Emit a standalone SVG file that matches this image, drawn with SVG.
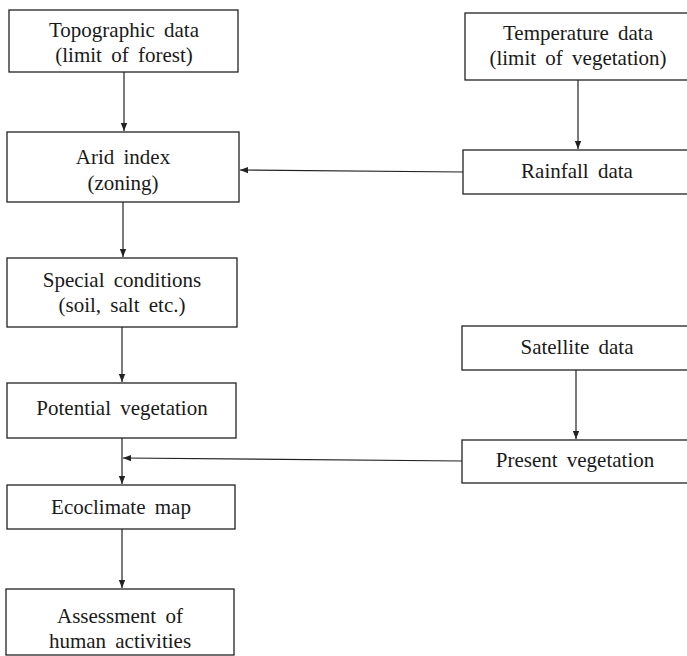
<svg xmlns="http://www.w3.org/2000/svg" width="687" height="656" viewBox="0 0 687 656">
<defs>
<marker id="ah" viewBox="0 0 10 10" refX="10" refY="5" markerWidth="8" markerHeight="8" markerUnits="userSpaceOnUse" orient="auto">
<path d="M0,1 L10,5 L0,9 Z" fill="#222"/>
</marker>
<style>
.box{fill:#fff;stroke:#222;stroke-width:1.3}
.t{font-size:21px;fill:#1a1a1a;text-anchor:middle;word-spacing:4px}
.c{fill:none;stroke:#222;stroke-width:1.2}
</style>
</defs>
<rect width="687" height="656" fill="#fff"/>
<g id="connectors">
<line class="c" x1="124" y1="72" x2="124" y2="131" marker-end="url(#ah)"/>
<line class="c" x1="578" y1="80" x2="578" y2="149" marker-end="url(#ah)"/>
<line class="c" x1="463" y1="172" x2="240" y2="170" marker-end="url(#ah)"/>
<line class="c" x1="123" y1="202" x2="123" y2="257" marker-end="url(#ah)"/>
<line class="c" x1="122" y1="327" x2="122" y2="382" marker-end="url(#ah)"/>
<line class="c" x1="576" y1="370" x2="576" y2="439" marker-end="url(#ah)"/>
<line class="c" x1="122" y1="438" x2="122" y2="484" marker-end="url(#ah)"/>
<line class="c" x1="462" y1="461" x2="123" y2="458" marker-end="url(#ah)"/>
<line class="c" x1="122" y1="529" x2="122" y2="588" marker-end="url(#ah)"/>
</g>
<g font-family="'Liberation Serif', 'Times New Roman', serif">
<g id="topographic">
<rect class="box" x="9" y="10" width="229" height="62"/>
<text class="t" x="124" y="37">Topographic data</text>
<text class="t" x="124" y="62">(limit of forest)</text>
</g>
<g id="temperature">
<rect class="box" x="465" y="13" width="240" height="67"/>
<text class="t" x="578" y="40">Temperature data</text>
<text class="t" x="578" y="65">(limit of vegetation)</text>
</g>
<g id="arid">
<rect class="box" x="7" y="132" width="232" height="70"/>
<text class="t" x="123" y="164">Arid index</text>
<text class="t" x="123" y="190">(zoning)</text>
</g>
<g id="rainfall">
<rect class="box" x="463" y="150" width="240" height="44"/>
<text class="t" x="577" y="178">Rainfall data</text>
</g>
<g id="special">
<rect class="box" x="7" y="258" width="230" height="69"/>
<text class="t" x="122" y="287">Special conditions</text>
<text class="t" x="122" y="312">(soil, salt etc.)</text>
</g>
<g id="satellite">
<rect class="box" x="462" y="326" width="240" height="44"/>
<text class="t" x="577" y="354">Satellite data</text>
</g>
<g id="potential">
<rect class="box" x="7" y="383" width="229" height="55"/>
<text class="t" x="122" y="415">Potential vegetation</text>
</g>
<g id="present">
<rect class="box" x="462" y="440" width="240" height="43"/>
<text class="t" x="575" y="467">Present vegetation</text>
</g>
<g id="ecoclimate">
<rect class="box" x="7" y="485" width="228" height="44"/>
<text class="t" x="121" y="514">Ecoclimate map</text>
</g>
<g id="assessment">
<rect class="box" x="6" y="589" width="228" height="66"/>
<text class="t" x="120" y="623">Assessment of</text>
<text class="t" x="120" y="648">human activities</text>
</g>
</g>
</svg>
